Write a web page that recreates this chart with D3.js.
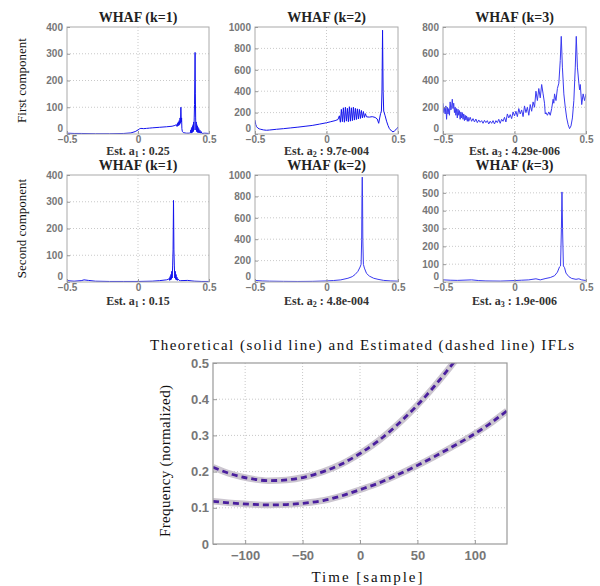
<!DOCTYPE html>
<html><head><meta charset="utf-8">
<script src="https://cdn.jsdelivr.net/npm/d3@7"></script>
<style>
html,body{margin:0;padding:0;background:#fff;}
svg{display:block;}
.tick text{font-family:"Liberation Sans",Arial,sans-serif;font-weight:bold;fill:#777;}
.serif{font-family:"Liberation Serif","DejaVu Serif",serif;}
</style></head>
<body>
<svg id="c" width="600" height="586"></svg>
<script>
// ---------------- DATA ----------------
const freqTicks = [-0.5, 0, 0.5];
const rowLabels = ["First component", "Second component"];
const panelTitles = ["WHAF (k=1)", "WHAF (k=2)", "WHAF (k=3)", "WHAF (k=1)", "WHAF (k=2)", "WHAF (k=3)"];
const estSub = ["1", "2", "3", "1", "2", "3"];
const estVal = ["0.25", "9.7e-004", "4.29e-006", "0.15", "4.8e-004", "1.9e-006"];
const yMaxes = [400, 1000, 800, 400, 1000, 600];
const ySteps = [100, 200, 200, 100, 200, 100];

// [normalized frequency, WHAF magnitude]
const whafFirstK1 = [[-0.5,3],[-0.45,2],[-0.4,2],[-0.3,1],[-0.2,1],[-0.1,2],[-0.05,4],[-0.02,9],[0,15],[0.01,19],[0.02,21],[0.04,20],[0.06,21],[0.08,22],[0.1,23],[0.15,25],[0.2,27],[0.24,29],[0.26,32],[0.27,35],
 [0.275,28],[0.278,40],[0.281,30],[0.284,45],[0.287,32],[0.29,50],[0.293,35],[0.296,60],[0.299,40],[0.302,100],[0.305,45],[0.307,60],[0.309,20],[0.312,10],[0.32,5],[0.34,3],[0.36,3],
 [0.37,5],[0.372,15],[0.374,3],[0.376,20],[0.378,4],[0.38,25],[0.382,6],[0.384,30],[0.386,8],[0.388,35],[0.39,10],[0.392,45],[0.394,15],[0.396,60],[0.398,110],[0.4,200],[0.402,305],[0.404,150],[0.406,60],[0.408,15],[0.41,45],[0.412,10],[0.414,35],[0.416,8],[0.418,30],[0.42,6],[0.422,25],[0.425,5],[0.428,20],[0.432,4],[0.436,14],[0.44,3],[0.445,9],[0.45,2],[0.47,3],[0.5,2]];
const whafFirstK2 = [[-0.5,130],[-0.495,90],[-0.49,70],[-0.48,55],[-0.47,48],[-0.46,44],[-0.44,38],[-0.42,35],[-0.4,37],[-0.35,44],[-0.3,50],[-0.25,57],[-0.2,64],[-0.15,72],[-0.1,80],[-0.05,92],[0,105],[0.03,115],[0.06,125],[0.08,135],
 [0.09,170],[0.097,110],[0.104,230],[0.111,115],[0.118,245],[0.125,110],[0.132,250],[0.139,120],[0.146,240],[0.153,115],[0.16,255],[0.167,120],[0.174,245],[0.181,125],[0.188,250],[0.195,130],[0.202,240],[0.209,135],[0.216,235],[0.223,140],[0.23,230],[0.237,145],[0.244,220],[0.251,150],[0.258,210],[0.265,155],[0.272,190],[0.28,160],
 [0.3,158],[0.32,162],[0.34,155],[0.355,140],[0.365,100],[0.372,150],[0.378,190],[0.384,215],[0.388,400],[0.392,970],[0.396,400],[0.4,215],[0.41,170],[0.42,120],[0.43,80],[0.44,50],[0.455,28],[0.465,20],[0.475,28],[0.485,40],[0.495,55],[0.5,65]];
const whafFirstK3 = [[-0.5,230],[-0.495,160],[-0.49,200],[-0.485,150],[-0.48,210],[-0.475,110],[-0.47,200],[-0.465,150],[-0.46,190],[-0.455,140],[-0.45,240],[-0.445,180],[-0.44,200],[-0.435,260],[-0.43,190],[-0.425,230],[-0.42,160],[-0.415,200],[-0.41,140],[-0.405,190],[-0.4,120],[-0.395,185],[-0.39,140],[-0.385,175],[-0.38,110],[-0.375,165],[-0.37,120],[-0.365,160],[-0.36,110],[-0.355,150],[-0.35,100],[-0.345,140],[-0.34,105],[-0.335,135],[-0.33,95],[-0.325,125],[-0.32,95],[-0.31,125],[-0.3,95],[-0.29,115],[-0.28,90],[-0.27,112],[-0.26,85],[-0.25,105],[-0.24,88],[-0.23,100],[-0.22,80],[-0.21,102],[-0.2,85],[-0.19,100],[-0.18,75],[-0.17,96],[-0.16,80],[-0.15,100],[-0.14,75],[-0.13,100],[-0.12,85],[-0.11,110],[-0.1,80],[-0.09,110],[-0.08,95],[-0.07,125],[-0.06,90],[-0.05,150],[-0.04,120],[-0.03,145],[-0.02,115],[-0.01,165],[0,135],[0.01,170],[0.02,130],[0.03,190],[0.04,150],[0.05,180],[0.06,130],[0.07,210],[0.08,160],[0.09,200],[0.1,140],[0.11,220],[0.12,170],[0.13,240],[0.14,200],[0.15,320],[0.16,250],[0.17,340],[0.18,270],[0.19,370],[0.2,300],[0.21,230],[0.215,150],[0.22,160],[0.23,140],[0.24,165],[0.25,140],[0.26,190],[0.27,260],[0.275,230],[0.28,300],[0.29,250],[0.3,340],[0.31,380],[0.32,550],[0.327,730],[0.335,500],[0.345,300],[0.355,200],[0.365,120],[0.375,70],[0.385,40],[0.395,60],[0.405,120],[0.415,250],[0.425,500],[0.432,730],[0.44,500],[0.45,380],[0.455,330],[0.46,370],[0.47,220],[0.48,300],[0.49,250],[0.5,300]];
const whafSecondK1 = [[-0.5,5],[-0.45,3],[-0.4,5],[-0.38,8],[-0.35,6],[-0.3,3],[-0.2,2],[-0.1,2],[0,2],[0.1,3],[0.15,5],[0.2,8],[0.215,10],
 [0.22,14],[0.223,6],[0.226,20],[0.229,8],[0.232,28],[0.235,10],[0.238,40],[0.241,15],[0.244,60],[0.247,120],[0.25,305],[0.253,120],[0.256,60],[0.259,15],[0.262,40],[0.265,10],[0.268,28],[0.271,8],[0.274,18],[0.277,6],[0.28,12],[0.29,6],[0.3,5],[0.35,6],[0.38,4],[0.4,3],[0.45,2],[0.5,2]];
const whafSecondK2 = [[-0.5,15],[-0.45,10],[-0.4,8],[-0.3,6],[-0.2,5],[-0.1,6],[0,10],[0.05,14],[0.1,20],[0.15,35],[0.18,50],[0.2,70],[0.22,100],[0.235,140],[0.242,165],[0.246,400],[0.248,800],[0.25,980],[0.252,800],[0.254,400],[0.258,165],[0.265,130],[0.28,80],[0.3,55],[0.33,35],[0.36,25],[0.4,15],[0.45,10],[0.5,8]];
const whafSecondK3 = [[-0.5,12],[-0.45,10],[-0.4,9],[-0.3,12],[-0.25,8],[-0.2,6],[-0.1,5],[0,8],[0.05,10],[0.1,12],[0.15,18],[0.18,12],[0.22,20],[0.25,25],[0.28,35],[0.3,55],[0.315,85],[0.322,90],[0.328,300],[0.332,505],[0.336,300],[0.342,90],[0.35,80],[0.36,50],[0.38,30],[0.4,20],[0.43,15],[0.45,18],[0.47,12],[0.5,8]];
const whafSeries = [whafFirstK1, whafFirstK2, whafFirstK3, whafSecondK1, whafSecondK2, whafSecondK3];

// IFL chart
const timeTicks = [-100, -50, 0, 50, 100];
const freqAxisTicks = [0, 0.1, 0.2, 0.3, 0.4, 0.5];
const timeSamples = [-128,-112,-96,-80,-64,-48,-32,-16,0,16,32,48,64,80,96];
const ifl1Theoretical = [0.212,0.193,0.181,0.175,0.177,0.185,0.200,0.221,0.250,0.285,0.328,0.377,0.433,0.495,0.56];
const ifl1Estimated   = [0.212,0.193,0.181,0.175,0.177,0.185,0.200,0.221,0.250,0.285,0.328,0.377,0.433,0.495,0.56];
const timeSamples2 = [-128,-112,-96,-80,-64,-48,-32,-16,0,16,32,48,64,80,96,112,128];
const ifl2Theoretical = [0.118,0.113,0.110,0.108,0.109,0.113,0.120,0.133,0.150,0.168,0.190,0.214,0.240,0.268,0.297,0.330,0.368];
const ifl2Estimated   = [0.118,0.113,0.110,0.108,0.109,0.113,0.120,0.133,0.150,0.168,0.190,0.214,0.240,0.268,0.297,0.330,0.368];

// ---------------- DRAW ----------------
const svg = d3.select("#c");
const cols = [[67,209],[255,398],[443,586]];
const rows = [[27,134],[175,282]];
const titleY = [22, 170];
const estY = [155, 305];

whafSeries.forEach((series, i) => {
  const r = Math.floor(i/3), c = i%3;
  const x = d3.scaleLinear().domain([-0.5,0.5]).range(cols[c]);
  const y = d3.scaleLinear().domain([0,yMaxes[i]]).range([rows[r][1], rows[r][0]]);
  const g = svg.append("g");
  const yt = d3.range(0, yMaxes[i]+1, ySteps[i]);
  g.selectAll(".gx").data(freqTicks.slice(1,-1)).join("line")
    .attr("x1",d=>x(d)).attr("x2",d=>x(d)).attr("y1",rows[r][0]).attr("y2",rows[r][1])
    .attr("stroke","#bbb").attr("stroke-dasharray","1,2").attr("stroke-width",0.8);
  g.selectAll(".gy").data(yt.slice(1,-1)).join("line")
    .attr("x1",cols[c][0]).attr("x2",cols[c][1]).attr("y1",d=>y(d)).attr("y2",d=>y(d))
    .attr("stroke","#bbb").attr("stroke-dasharray","1,2").attr("stroke-width",0.8);
  const clipId = "clip"+i;
  svg.append("clipPath").attr("id",clipId).append("rect")
    .attr("x",cols[c][0]).attr("y",rows[r][0]-1).attr("width",cols[c][1]-cols[c][0]).attr("height",rows[r][1]-rows[r][0]+1);
  g.append("path").datum(series).attr("clip-path",`url(#${clipId})`)
    .attr("d", d3.line().x(d=>x(d[0])).y(d=>y(d[1])))
    .attr("fill","none").attr("stroke", (i===2||i>=4) ? "#3a3af0" : "#1414ee").attr("stroke-width",1);
  g.append("rect").attr("x",cols[c][0]).attr("y",rows[r][0]).attr("width",cols[c][1]-cols[c][0]).attr("height",rows[r][1]-rows[r][0])
    .attr("fill","none").attr("stroke","#aaa").attr("stroke-width",1);
  const ax = g.append("g").attr("transform",`translate(0,${rows[r][1]})`)
    .call(d3.axisBottom(x).tickValues(freqTicks).tickFormat(d=>d===0?"0":d3.format(".1f")(d)).tickSize(-3).tickPadding(3));
  ax.select(".domain").remove();
  ax.selectAll(".tick line").attr("stroke","#999");
  ax.selectAll("text").attr("font-size",10).attr("dy","0.55em");
  const ay = g.append("g").attr("transform",`translate(${cols[c][0]},0)`)
    .call(d3.axisLeft(y).tickValues(yt).tickFormat(d3.format("d")).tickSize(-3).tickPadding(4));
  ay.select(".domain").remove();
  ay.selectAll(".tick line").attr("stroke","#999");
  ay.selectAll("text").attr("font-size",10).attr("dy",d=>d===0?"-0.3em":"0.32em");
  const cx = (cols[c][0]+cols[c][1])/2;
  const t = g.append("text").attr("class","serif").attr("x",cx).attr("y",titleY[r]).attr("text-anchor","middle")
    .attr("font-size",14).attr("font-weight","bold").attr("fill","#222");
  if (i===5) {
    const parts = panelTitles[i].split("k");
    t.append("tspan").text(parts[0]);
    t.append("tspan").attr("font-style","italic").text("k");
    t.append("tspan").text(parts[1]);
  } else t.text(panelTitles[i]);
  const e = g.append("text").attr("class","serif").attr("x",cx).attr("y",estY[r]).attr("text-anchor","middle")
    .attr("font-size",12).attr("font-weight","bold").attr("fill","#333");
  e.append("tspan").text("Est. a");
  e.append("tspan").attr("font-size",8).attr("dy",2).text(estSub[i]);
  e.append("tspan").attr("dy",-2).text(" : " + estVal[i]);
});
rowLabels.forEach((lab, r) => {
  const cy = (rows[r][0]+rows[r][1])/2;
  svg.append("text").attr("class","serif").attr("transform",`translate(26,${cy}) rotate(-90)`).attr("text-anchor","middle")
    .attr("font-size",13).attr("fill","#111").text(lab);
});

// ---- IFL chart ----
const L = 213, R = 507, T = 363, B = 544;
const xt = d3.scaleLinear().domain([-128,128]).range([L,R]);
const yf = d3.scaleLinear().domain([0,0.5]).range([B,T]);
const gb = svg.append("g");
gb.selectAll(".gx").data(timeTicks).join("line")
  .attr("x1",d=>xt(d)).attr("x2",d=>xt(d)).attr("y1",T).attr("y2",B)
  .attr("stroke","#c8c8c8").attr("stroke-dasharray","1,2");
gb.selectAll(".gy").data(freqAxisTicks.slice(1,-1)).join("line")
  .attr("x1",L).attr("x2",R).attr("y1",d=>yf(d)).attr("y2",d=>yf(d))
  .attr("stroke","#c8c8c8").attr("stroke-dasharray","1,2");
svg.append("clipPath").attr("id","clipB").append("rect").attr("x",L).attr("y",T).attr("width",R-L).attr("height",B-T);
const lineT = d3.line().x(d=>xt(d[0])).y(d=>yf(d[1])).curve(d3.curveMonotoneX);
const curves = [
  [timeSamples, ifl1Theoretical, ifl1Estimated],
  [timeSamples2, ifl2Theoretical, ifl2Estimated]
];
curves.forEach(([ts, th, es]) => {
  gb.append("path").datum(ts.map((t,k)=>[t,th[k]])).attr("clip-path","url(#clipB)")
    .attr("d",lineT).attr("fill","none").attr("stroke","#cbc5cf").attr("stroke-width",6.5);
});
curves.forEach(([ts, th, es]) => {
  gb.append("path").datum(ts.map((t,k)=>[t,es[k]])).attr("clip-path","url(#clipB)")
    .attr("d",lineT).attr("fill","none").attr("stroke","#4a1f9e").attr("stroke-width",2.8).attr("stroke-dasharray","6,4");
});
gb.append("rect").attr("x",L).attr("y",T).attr("width",R-L).attr("height",B-T)
  .attr("fill","none").attr("stroke","#999").attr("stroke-width",1.2);
const bx = gb.append("g").attr("transform",`translate(0,${B})`)
  .call(d3.axisBottom(xt).tickValues(timeTicks).tickSize(-4).tickPadding(6));
bx.select(".domain").remove();
bx.selectAll(".tick line").attr("stroke","#999");
bx.selectAll("text").attr("font-size",13).attr("dy","0.75em");
const by = gb.append("g").attr("transform",`translate(${L},0)`)
  .call(d3.axisLeft(yf).tickValues(freqAxisTicks).tickFormat(d=>d===0?"0":d3.format(".1f")(d)).tickSize(-4).tickPadding(4));
by.select(".domain").remove();
by.selectAll(".tick line").attr("stroke","#999");
by.selectAll("text").attr("font-size",13);
svg.append("text").attr("class","serif").attr("x",362).attr("y",350).attr("text-anchor","middle")
  .attr("font-size",15).attr("fill","#111")
  .attr("textLength",424).attr("lengthAdjust","spacing")
  .text("Theoretical (solid line) and Estimated (dashed line) IFLs");
svg.append("text").attr("class","serif").attr("x",367).attr("y",582).attr("text-anchor","middle")
  .attr("font-size",15).attr("fill","#111")
  .attr("textLength",111).attr("lengthAdjust","spacing")
  .text("Time [sample]");
svg.append("text").attr("class","serif").attr("transform",`translate(170,461) rotate(-90)`).attr("text-anchor","middle")
  .attr("font-size",15).attr("fill","#111")
  .attr("textLength",152).attr("lengthAdjust","spacing")
  .text("Frequency (normalized)");
</script>
</body></html>
